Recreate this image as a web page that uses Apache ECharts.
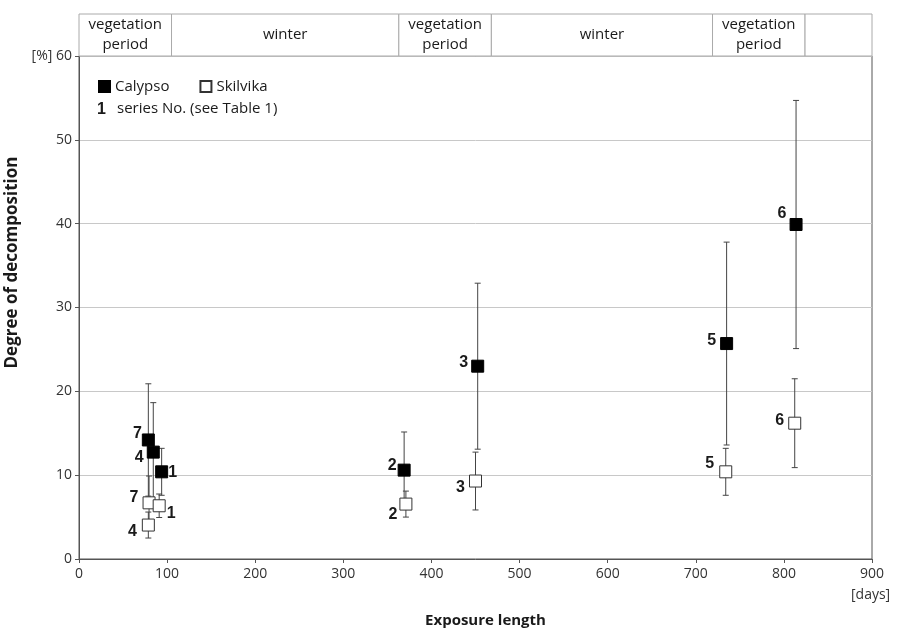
<!DOCTYPE html>
<html>
<head>
<meta charset="utf-8">
<script src="https://cdn.jsdelivr.net/npm/echarts@6/dist/echarts.min.js"></script>
<style>
  html, body { margin: 0; padding: 0; background: #fff; }
  #chart { width: 904px; height: 628px; }
</style>
</head>
<body>
<div id="chart"></div>
<script>
// series numbers (see Table 1)
var seriesNo = [7, 4, 1, 2, 3, 5, 6];

// Calypso: exposure days, degree of decomposition [%], error (+/-)
var calypsoDays = [78.7, 84.3, 93.8, 369, 452.5, 735, 813.8];
var calypsoVal  = [14.2, 12.75, 10.4, 10.6, 23.0, 25.7, 39.9];
var calypsoErr  = [6.7, 5.9, 2.8, 4.55, 9.9, 12.1, 14.8];

// Skilvika
var skilvikaDays = [79.5, 78.7, 91, 371, 450, 734, 812.3];
var skilvikaVal  = [6.7, 4.05, 6.35, 6.55, 9.3, 10.4, 16.2];
var skilvikaErr  = [3.2, 1.55, 1.4, 1.55, 3.45, 2.8, 5.3];

// season band above the plot
var periodNames = ['vegetation\nperiod', 'winter', 'vegetation\nperiod', 'winter', 'vegetation\nperiod', ''];
var periodStart = [0, 105, 363, 468, 719, 824];
var periodEnd   = [105, 363, 468, 719, 824, 900];

// label offsets of the series numbers (style only)
var calypsoLabelOffset = { 7: [-11, -6], 4: [-14, 5], 1: [11, 1], 2: [-12, -5], 3: [-14, -4], 5: [-15, -3], 6: [-14, -11] };
var skilvikaLabelOffset = { 7: [-15, -5], 4: [-16, 7], 1: [12, 8], 2: [-13, 11], 3: [-15, 7], 5: [-16, -8], 6: [-15, -3] };

var font = "'Open Sans', 'Noto Sans', sans-serif";
var numFont = "'Liberation Sans', Arial, sans-serif";

function points(days, vals, offsets) {
  return days.map(function (d, i) {
    var no = seriesNo[i];
    return {
      value: [d, vals[i]],
      label: {
        show: true,
        formatter: String(no),
        position: 'inside',
        offset: offsets[no],
        fontFamily: numFont,
        fontWeight: 'bold',
        fontSize: 16,
        color: '#1a1a1a'
      }
    };
  });
}

function errData(days, vals, errs) {
  return days.map(function (d, i) { return [d, vals[i] - errs[i], vals[i] + errs[i]]; });
}

function renderErr(params, api) {
  var lo = api.coord([api.value(0), api.value(1)]);
  var hi = api.coord([api.value(0), api.value(2)]);
  var w = 3;
  var style = { stroke: '#444', lineWidth: 1 };
  return {
    type: 'group',
    children: [
      { type: 'line', shape: { x1: hi[0], y1: hi[1], x2: lo[0], y2: lo[1] }, style: style },
      { type: 'line', shape: { x1: hi[0] - w, y1: hi[1], x2: hi[0] + w, y2: hi[1] }, style: style },
      { type: 'line', shape: { x1: lo[0] - w, y1: lo[1], x2: lo[0] + w, y2: lo[1] }, style: style }
    ]
  };
}

var periodData = periodNames.map(function (n, i) { return [periodStart[i], periodEnd[i], n]; });

var chart = echarts.init(document.getElementById('chart'));
chart.setOption({
  animation: false,
  grid: [
    { left: 79, right: 32, top: 56, bottom: 69, show: true, borderColor: '#555', borderWidth: 1, outerBoundsMode: 'none', containLabel: false },
    { left: 79, right: 32, top: 14, height: 42, outerBoundsMode: 'none', containLabel: false }
  ],
  legend: {
    left: 93, top: 74,
    orient: 'horizontal',
    itemWidth: 11, itemHeight: 11, itemGap: 30,
    textStyle: { fontFamily: font, fontSize: 15, color: '#1a1a1a' },
    data: [
      { name: 'Calypso', icon: 'rect' },
      { name: 'Skilvika', icon: 'rect' }
    ]
  },
  graphic: [
    { type: 'text', left: 97, top: 102, style: { text: '1', font: 'bold 16px ' + numFont, fill: '#1a1a1a' } },
    { type: 'text', left: 117, top: 101, style: { text: 'series No. (see Table 1)', font: '15px ' + font, fill: '#1a1a1a' } },
    { type: 'text', left: 851, top: 588, style: { text: '[days]', font: '14px ' + font, fill: '#333' } }
  ],
  xAxis: [
    {
      gridIndex: 0, type: 'value', min: 0, max: 900, interval: 100,
      name: 'Exposure length', nameLocation: 'middle', nameGap: 54,
      nameTextStyle: { fontFamily: font, fontWeight: 'bold', fontSize: 15, color: '#1a1a1a', padding: [0, 0, 0, 20] },
      axisLine: { lineStyle: { color: '#555' } },
      axisTick: { show: true, length: 4, lineStyle: { color: '#555' } },
      axisLabel: { fontFamily: font, fontSize: 14, color: '#333', margin: 8 },
      splitLine: { show: false }
    },
    { gridIndex: 1, type: 'value', min: 0, max: 900, show: false }
  ],
  yAxis: [
    {
      gridIndex: 0, type: 'value', min: 0, max: 60, interval: 10,
      name: 'Degree of decomposition', nameLocation: 'middle', nameGap: 50,
      nameTextStyle: { fontFamily: font, fontWeight: 'bold', fontSize: 17, color: '#1a1a1a', padding: [0, 0, 0, 90] },
      axisLine: { show: true, lineStyle: { color: '#555' } },
      axisTick: { show: true, length: 4, lineStyle: { color: '#555' } },
      axisLabel: {
        fontFamily: font, fontSize: 14, color: '#333', margin: 7,
        formatter: function (v) { return v === 60 ? '[%] 60' : String(v); }
      },
      splitLine: { lineStyle: { color: '#c8c8c8' } }
    },
    { gridIndex: 1, type: 'value', min: 0, max: 1, show: false }
  ],
  series: [
    {
      type: 'custom', xAxisIndex: 1, yAxisIndex: 1, silent: true,
      data: periodData,
      renderItem: function (params, api) {
        var a = api.coord([api.value(0), 1]);
        var b = api.coord([api.value(1), 0]);
        return {
          type: 'rect',
          shape: { x: a[0], y: a[1], width: b[0] - a[0], height: b[1] - a[1] },
          style: { fill: '#fff', stroke: '#aaa', lineWidth: 1 },
          textContent: {
            style: {
              text: api.value(2),
              fill: '#1a1a1a',
              font: '15px ' + font,
              lineHeight: 20,
              align: 'center',
              verticalAlign: 'middle'
            }
          },
          textConfig: { position: 'inside' }
        };
      }
    },
    {
      type: 'custom', name: 'errC', silent: true, z: 2,
      data: errData(calypsoDays, calypsoVal, calypsoErr),
      renderItem: renderErr
    },
    {
      type: 'custom', name: 'errS', silent: true, z: 2,
      data: errData(skilvikaDays, skilvikaVal, skilvikaErr),
      renderItem: renderErr
    },
    {
      type: 'scatter', name: 'Calypso', z: 3,
      symbol: 'rect', symbolSize: 12,
      itemStyle: { color: '#000', borderColor: '#000', borderWidth: 1, opacity: 1 },
      data: points(calypsoDays, calypsoVal, calypsoLabelOffset)
    },
    {
      type: 'scatter', name: 'Skilvika', z: 4,
      symbol: 'rect', symbolSize: 12,
      itemStyle: { color: '#fff', borderColor: '#333', borderWidth: 1, opacity: 1 },
      data: points(skilvikaDays, skilvikaVal, skilvikaLabelOffset)
    }
  ]
});
</script>
</body>
</html>
